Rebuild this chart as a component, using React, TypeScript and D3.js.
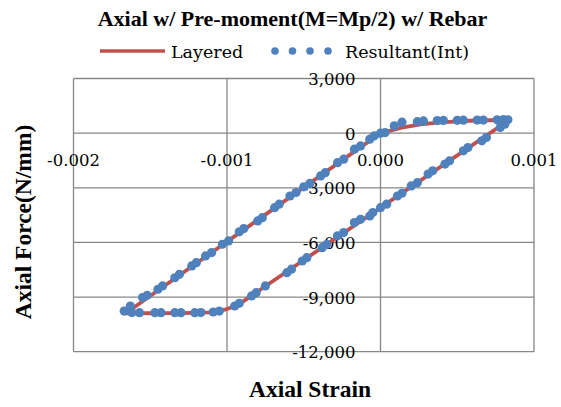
import * as d3 from "d3";

// strain values are in units of 1e-3
const layeredStrain = [0, 0.07, 0.13, 0.26, 0.39, 0.58, 0.84, -0.93, -1.0, -1.1, -1.3, -1.66, 0];
const layeredForce = [0, 150, 290, 480, 590, 680, 735, -9440, -9660, -9840, -9880, -9890, 0];

const resultStrain = [
  0, 0.03, 0.09, 0.14, 0.24, 0.28, 0.37, 0.41, 0.5, 0.54, 0.63, 0.67, 0.76, 0.8, 0.83,
  0.81, 0.78, 0.69, 0.66, 0.57, 0.54, 0.45, 0.42, 0.34, 0.31, 0.24, 0.2, 0.14, 0.11, 0.04, 0.0,
  -0.05, -0.07, -0.13, -0.17, -0.24, -0.28, -0.35, -0.38, -0.48, -0.51, -0.58, -0.61, -0.75,
  -0.81, -0.84, -0.92, -0.95,
  -1.05, -1.09, -1.17, -1.21, -1.3, -1.34, -1.43, -1.47, -1.57, -1.62, -1.67,
  -1.63, -1.55, -1.52, -1.45, -1.42, -1.34, -1.31, -1.23, -1.2, -1.14, -1.1, -1.03, -0.99,
  -0.92, -0.89, -0.8, -0.77, -0.69, -0.66, -0.59, -0.55, -0.5, -0.46, -0.39, -0.36, -0.28,
  -0.24, -0.17, -0.13, -0.07, -0.04,
];
const resultForce = [
  0, 30, 400, 600, 630, 670, 690, 700, 705, 710, 715, 720, 735, 740, 730,
  495, 310, -240, -420, -790, -970, -1520, -1700, -2070, -2250, -2720, -2900, -3300, -3450,
  -3900, -4090, -4360, -4550, -4730, -4910, -5460, -5640, -6100, -6290, -6840, -7020, -7470,
  -7660, -8390, -8760, -8940, -9340, -9490,
  -9770, -9820, -9850, -9860, -9860, -9860, -9860, -9860, -9860, -9850, -9770,
  -9490, -9030, -8900, -8570, -8390, -7940, -7750, -7290, -7110, -6740, -6560, -6100, -5920,
  -5420, -5240, -4820, -4640, -4090, -3900, -3450, -3260, -2950, -2760, -2350, -2170, -1620,
  -1430, -880, -700, -330, -150,
];

const xTicks = [-0.002, -0.001, 0, 0.001];
const yTicks = [3000, 0, -3000, -6000, -9000, -12000];

const W = 561;
const H = 407;
const red = "#C0504D";
const blue = "#4F81BD";
const grid = "#878787";
// regular Liberation Serif falls back to sans here, so plain text uses DejaVu Serif (a bit smaller, it runs wide)
const boldFont = "'Liberation Serif', 'Times New Roman', serif";
const plainFont = "DejaVu Serif";

export default function App() {
  const x = d3.scaleLinear().domain([-0.002, 0.001]).range([73.5, 534]);
  const y = d3.scaleLinear().domain([-12000, 3000]).range([351.7, 78.5]);

  const layered = layeredStrain.map((s, i) => [s * 1e-3, layeredForce[i]] as [number, number]);
  const dots = resultStrain.map((s, i) => [s * 1e-3, resultForce[i]] as [number, number]);
  const line = d3
    .line<[number, number]>()
    .x((d) => x(d[0]))
    .y((d) => y(d[1]));

  const fx = (v: number) => d3.format(".3f")(v).replace("\u2212", "-");
  const fy = (v: number) => d3.format(",")(v).replace("\u2212", "-");

  return (
    <svg
      width={W}
      height={H}
      style={{ position: "absolute", left: 0, top: 0, display: "block", background: "#fff" }}
    >
      <rect width={W} height={H} fill="#fff" />
      <text x={292.5} y={26} textAnchor="middle" fontSize={22} fontWeight="bold" fontFamily={boldFont}>
        Axial w/ Pre-moment(M=Mp/2) w/ Rebar
      </text>

      {/* legend */}
      <line x1={100} x2={165} y1={51} y2={51} stroke={red} strokeWidth={3.5} />
      <text x={171} y={58} fontSize={17.5} fontFamily={plainFont}>Layered</text>
      {[275, 292.5, 310, 328].map((cx) => (
        <circle key={cx} cx={cx} cy={51} r={3.8} fill={blue} />
      ))}
      <text x={345} y={58} fontSize={17.5} fontFamily={plainFont}>Resultant(Int)</text>

      {/* grid */}
      {xTicks.map((t) => (
        <line key={"gx" + t} x1={x(t)} x2={x(t)} y1={y(3000)} y2={y(-12000)} stroke={grid} strokeWidth={1.3} />
      ))}
      {yTicks.map((t) => (
        <line key={"gy" + t} x1={x(-0.002)} x2={x(0.001)} y1={y(t)} y2={y(t)} stroke={grid} strokeWidth={1.3} />
      ))}

      {/* tick labels */}
      {yTicks.map((t) => (
        <text key={"ly" + t} x={x(0) - 25} y={y(t) + 6.5} textAnchor="end" fontSize={16.5} fontFamily={plainFont}>
          {fy(t)}
        </text>
      ))}
      {xTicks.map((t) => (
        <text key={"lx" + t} x={x(t)} y={166} textAnchor="middle" fontSize={16.5} fontFamily={plainFont}>
          {fx(t)}
        </text>
      ))}

      {/* series */}
      <path d={line(layered) ?? ""} fill="none" stroke={red} strokeWidth={3.8} strokeLinejoin="round" />
      {dots.map((d, i) => (
        <circle key={i} cx={x(d[0])} cy={y(d[1])} r={4.6} fill={blue} />
      ))}

      {/* axis titles */}
      <text x={310} y={397} textAnchor="middle" fontSize={23.5} fontWeight="bold" fontFamily={boldFont}>
        Axial Strain
      </text>
      <text
        transform={`translate(31,222) rotate(-90)`}
        textAnchor="middle"
        fontSize={23.5}
        fontWeight="bold"
        fontFamily={boldFont}
      >
        Axial Force(N/mm)
      </text>
    </svg>
  );
}
